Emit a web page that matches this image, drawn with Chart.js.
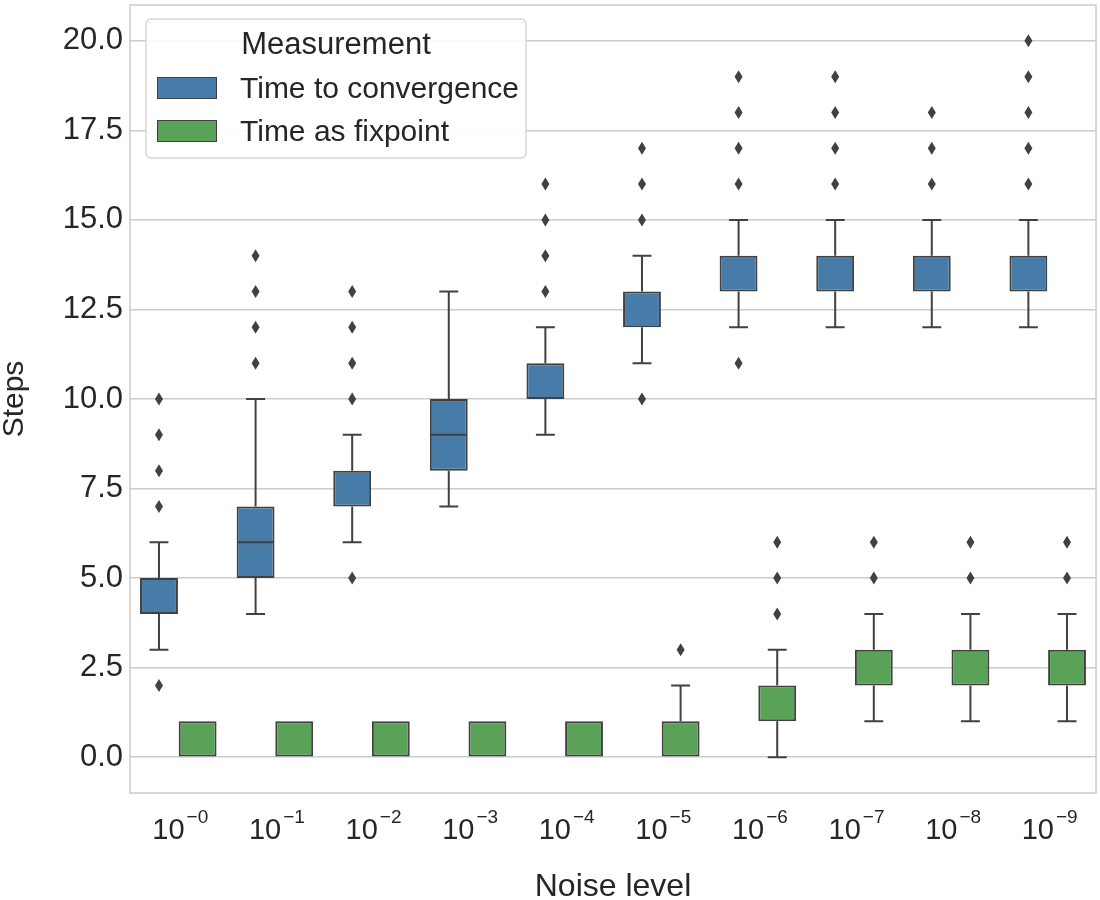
<!DOCTYPE html>
<html>
<head>
<meta charset="utf-8">
<script src="https://cdn.jsdelivr.net/npm/chart.js@4/dist/chart.umd.min.js"></script>
<style>
  html, body { margin: 0; padding: 0; background: #ffffff; }
  #c { display: block; }
</style>
</head>
<body>
<canvas id="c" width="1100" height="900"></canvas>
<script>
// ---------- data ----------
const noiseExponents = ['\u22120', '\u22121', '\u22122', '\u22123', '\u22124', '\u22125', '\u22126', '\u22127', '\u22128', '\u22129'];
const categories = noiseExponents.map(e => '10^' + e);
const seriesNames = ['Time to convergence', 'Time as fixpoint'];
const legendTitle = 'Measurement';
const xTitle = 'Noise level';
const yTitle = 'Steps';

const convQ1          = [4, 5, 7, 8, 10, 12, 13, 13, 13, 13];
const convMedian      = [4, 6, 7, 9, 10, 12, 13, 13, 13, 13];
const convQ3          = [5, 7, 8, 10, 11, 13, 14, 14, 14, 14];
const convWhiskerLow  = [3, 4, 6, 7, 9, 11, 12, 12, 12, 12];
const convWhiskerHigh = [6, 10, 9, 13, 12, 14, 15, 15, 15, 15];
const convOutliers    = [[2, 7, 8, 9, 10], [11, 12, 13, 14], [5, 10, 11, 12, 13], [], [13, 14, 15, 16],
                         [10, 15, 16, 17], [11, 16, 17, 18, 19], [16, 17, 18, 19], [16, 17, 18], [16, 17, 18, 19, 20]];

const fixQ1           = [0, 0, 0, 0, 0, 0, 1, 2, 2, 2];
const fixMedian       = [0, 0, 0, 0, 0, 0, 1, 2, 2, 2];
const fixQ3           = [1, 1, 1, 1, 1, 1, 2, 3, 3, 3];
const fixWhiskerLow   = [0, 0, 0, 0, 0, 0, 0, 1, 1, 1];
const fixWhiskerHigh  = [1, 1, 1, 1, 1, 2, 3, 4, 4, 4];
const fixOutliers     = [[], [], [], [], [], [3], [4, 5, 6], [5, 6], [5, 6], [5, 6]];

const yTicks = [0, 2.5, 5, 7.5, 10, 12.5, 15, 17.5, 20];
const yMin = -1, yMax = 21;

// ---------- styles ----------
const BLUE = '#477ca8', GREEN = '#59a257';
const LINE = '#414141', TEXT = '#262626', GRID = '#cccccc';
const FONT = '"Liberation Sans", Arial, Helvetica, sans-serif';

const statsByDataset = [
  { median: convMedian, lo: convWhiskerLow, hi: convWhiskerHigh, out: convOutliers },
  { median: fixMedian, lo: fixWhiskerLow, hi: fixWhiskerHigh, out: fixOutliers }
];

// ---------- plugins ----------
const framePlugin = {
  id: 'frame',
  beforeDatasetsDraw(chart) {
    const { ctx, chartArea: a } = chart;
    ctx.save();
    ctx.strokeStyle = GRID;
    ctx.lineWidth = 1.5;
    ctx.strokeRect(a.left, a.top, a.right - a.left, a.bottom - a.top);
    ctx.restore();
  }
};

const boxExtrasPlugin = {
  id: 'boxExtras',
  afterDatasetsDraw(chart) {
    const { ctx } = chart;
    const ys = chart.scales.y;
    ctx.save();
    ctx.strokeStyle = LINE;
    ctx.fillStyle = LINE;
    ctx.lineWidth = 2;
    ctx.lineCap = 'butt';
    statsByDataset.forEach((st, d) => {
      const meta = chart.getDatasetMeta(d);
      const raw = chart.data.datasets[d].data;
      meta.data.forEach((el, j) => {
        const x = el.x, w = el.width;
        const v1 = raw[j][0], v3 = raw[j][1];
        const q1 = ys.getPixelForValue(v1);
        const q3 = ys.getPixelForValue(v3);
        const lo = ys.getPixelForValue(st.lo[j]);
        const hi = ys.getPixelForValue(st.hi[j]);
        const med = ys.getPixelForValue(st.median[j]);
        ctx.beginPath();
        if (st.hi[j] > v3) {
          ctx.moveTo(x, q3); ctx.lineTo(x, hi);
          ctx.moveTo(x - w / 4, hi); ctx.lineTo(x + w / 4, hi);
        }
        if (st.lo[j] < v1) {
          ctx.moveTo(x, q1); ctx.lineTo(x, lo);
          ctx.moveTo(x - w / 4, lo); ctx.lineTo(x + w / 4, lo);
        }
        if (st.median[j] > v1 && st.median[j] < v3) {
          ctx.moveTo(x - w / 2 + 1, med); ctx.lineTo(x + w / 2 - 1, med);
        }
        ctx.stroke();
        // outliers (thin diamonds)
        st.out[j].forEach(v => {
          const py = ys.getPixelForValue(v);
          ctx.beginPath();
          ctx.moveTo(x, py - 6.5);
          ctx.lineTo(x + 4, py);
          ctx.lineTo(x, py + 6.5);
          ctx.lineTo(x - 4, py);
          ctx.closePath();
          ctx.fill();
        });
      });
    });
    ctx.restore();
  }
};

const xLabelsPlugin = {
  id: 'xLabels',
  afterDraw(chart) {
    const { ctx } = chart;
    const xs = chart.scales.x;
    ctx.save();
    ctx.fillStyle = TEXT;
    ctx.textBaseline = 'alphabetic';
    ctx.textAlign = 'left';
    const baseFont = '29px ' + FONT;
    const supFont = '19px ' + FONT;
    noiseExponents.forEach((e, i) => {
      const cx = xs.getPixelForValue(i);
      ctx.font = baseFont;
      const wb = ctx.measureText('10').width;
      ctx.font = supFont;
      const we = ctx.measureText(e).width;
      const x0 = cx - (wb + we) / 2 + 1;
      ctx.font = baseFont;
      ctx.fillText('10', x0, 839);
      ctx.font = supFont;
      ctx.fillText(e, x0 + wb + 2, 823);
    });
    ctx.restore();
  }
};

const legendPlugin = {
  id: 'boxLegend',
  afterDraw(chart) {
    const { ctx } = chart;
    const L = 146, T = 19, W = 380, H = 139, R = 5;
    ctx.save();
    ctx.beginPath();
    ctx.moveTo(L + R, T);
    ctx.arcTo(L + W, T, L + W, T + H, R);
    ctx.arcTo(L + W, T + H, L, T + H, R);
    ctx.arcTo(L, T + H, L, T, R);
    ctx.arcTo(L, T, L + W, T, R);
    ctx.closePath();
    ctx.fillStyle = 'rgba(255,255,255,0.9)';
    ctx.fill();
    ctx.strokeStyle = '#d6d6d6';
    ctx.lineWidth = 1.5;
    ctx.stroke();

    ctx.fillStyle = TEXT;
    ctx.textBaseline = 'alphabetic';
    ctx.font = '31px ' + FONT;
    ctx.textAlign = 'center';
    ctx.fillText(legendTitle, L + W / 2, 54);

    ctx.textAlign = 'left';
    ctx.font = '30px ' + FONT;
    const rows = [{ py: 77, base: 98 }, { py: 120, base: 141 }];
    chart.data.datasets.forEach((ds, k) => {
      const r = rows[k];
      ctx.fillStyle = ds.backgroundColor;
      ctx.fillRect(157, r.py, 60, 22);
      ctx.strokeStyle = LINE;
      ctx.lineWidth = 1;
      ctx.strokeRect(157.5, r.py + 0.5, 59, 21);
      ctx.fillStyle = TEXT;
      ctx.fillText(ds.label, 240, r.base);
    });
    ctx.restore();
  }
};

// ---------- chart ----------
new Chart(document.getElementById('c'), {
  type: 'bar',
  data: {
    labels: categories,
    datasets: [
      {
        label: seriesNames[0],
        data: categories.map((_, i) => [convQ1[i], convQ3[i]]),
        backgroundColor: BLUE,
        borderColor: LINE,
        borderWidth: 2,
        borderSkipped: false,
        barPercentage: 0.98,
        categoryPercentage: 0.8
      },
      {
        label: seriesNames[1],
        data: categories.map((_, i) => [fixQ1[i], fixQ3[i]]),
        backgroundColor: GREEN,
        borderColor: LINE,
        borderWidth: 2,
        borderSkipped: false,
        barPercentage: 0.98,
        categoryPercentage: 0.8
      }
    ]
  },
  options: {
    responsive: false,
    animation: false,
    devicePixelRatio: 1,
    layout: { padding: { top: 5, right: 4, bottom: 0, left: 0 } },
    plugins: {
      legend: { display: false },
      tooltip: { enabled: false }
    },
    scales: {
      x: {
        type: 'category',
        offset: true,
        grid: { display: false, drawTicks: false },
        border: { display: false },
        ticks: { display: false },
        title: {
          display: true,
          text: xTitle,
          color: TEXT,
          font: { family: FONT, size: 32, lineHeight: 0.8 },
          padding: { top: 0, bottom: 0 }
        },
        afterFit(scale) {
          scale.height = 107;
          scale.paddingLeft = 0; scale.paddingRight = 0;
        }
      },
      y: {
        type: 'linear',
        min: yMin,
        max: yMax,
        grid: { color: GRID, lineWidth: 1.5, drawTicks: false },
        border: { display: false },
        ticks: {
          color: TEXT,
          padding: 7,
          font: { family: FONT, size: 31 },
          callback: v => Number(v).toFixed(1)
        },
        afterBuildTicks(scale) { scale.ticks = yTicks.map(v => ({ value: v })); },
        title: {
          display: true,
          text: yTitle,
          color: TEXT,
          font: { family: FONT, size: 30, lineHeight: 1.0 },
          padding: { top: 0, bottom: 0 }
        },
        afterFit(scale) {
          scale.width = 130;
          scale.paddingTop = 0; scale.paddingBottom = 0;
        }
      }
    }
  },
  plugins: [framePlugin, boxExtrasPlugin, xLabelsPlugin, legendPlugin]
});
</script>
</body>
</html>
